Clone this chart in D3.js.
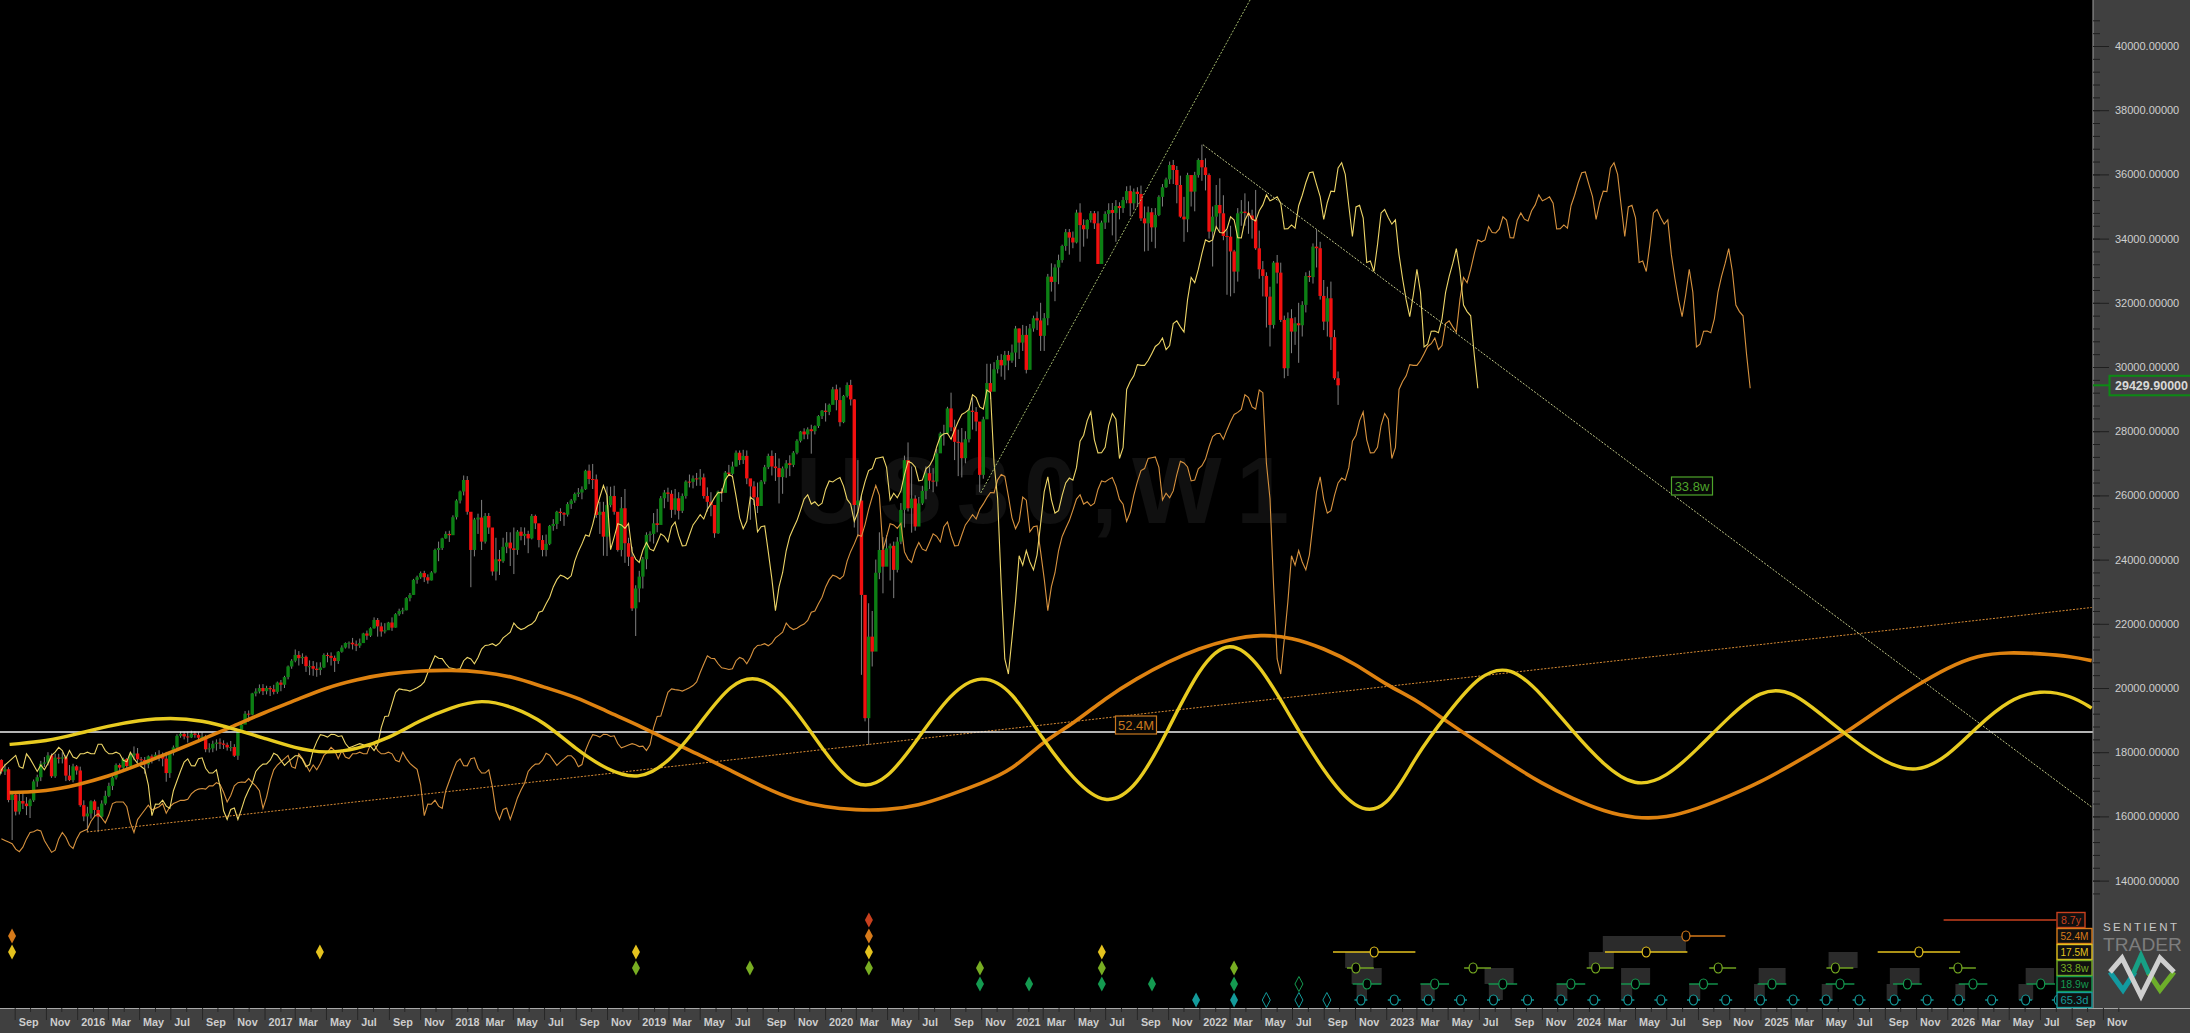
<!DOCTYPE html>
<html>
<head>
<meta charset="utf-8">
<title>US30,W1</title>
<script src="https://cdnjs.cloudflare.com/ajax/libs/d3/7.8.5/d3.min.js"></script>
<style>
html, body { margin: 0; padding: 0; background: #000; overflow: hidden; }
text { font-family: "Liberation Sans", Arial, sans-serif; }
</style>
</head>
<body>
<svg id="chart"></svg>
<script>
// weekly candles, first bar is the week of 3 Aug 2015
const firstOpen = 17760;
const closes = [
  17400,17470,16510,16680,16150,16480,16400,16320,16500,17090,
  17220,17640,17680,17900,17250,17830,17800,17840,17270,17130,
  17560,17430,16350,16000,16090,16470,16200,15990,16400,16640,
  16950,17210,17600,17520,17790,17570,17900,17960,17780,17760,
  17620,17870,17810,17920,17860,17800,17350,17980,18150,18510,
  18570,18490,18460,18580,18540,18450,18490,18090,18120,18260,
  18300,18270,18230,18150,18160,17890,18660,18860,19200,19170,
  19830,19890,20000,19900,20000,19960,19880,20170,20100,20340,
  20670,20850,21030,20930,20970,20680,20680,20600,20560,20640,
  21030,21000,20940,20840,21130,21260,21400,21410,21360,21320,
  21400,21700,21630,21860,22120,21920,21760,21800,22040,21880,
  22300,22400,22420,22800,22900,23370,23450,23580,23450,23350,
  23600,24300,24360,24660,24800,24760,25320,25840,26120,26480,
  25490,24300,25250,25310,24560,25360,25000,23630,24010,23950,
  24400,24530,24350,24300,24870,24740,24800,24660,25360,25130,
  24610,24300,24490,25050,25110,25490,25450,25400,25730,25840,
  26045,26090,26190,26770,26510,26500,25390,25490,24715,25700,
  25980,25490,24300,25600,24510,24090,22480,23100,23470,24010,
  24770,24800,25130,25080,25910,26090,26050,25550,25910,25520,
  25980,26430,26420,26530,26500,26560,25980,25800,25700,24820,
  26120,26080,26710,26670,26900,27330,27100,27230,26530,26280,
  25940,25670,26430,26880,27230,26900,26850,26570,26840,27000,
  26950,27330,27700,27990,27900,28060,28000,28160,28470,28640,
  28600,28820,29305,28970,28280,29100,29440,28990,25700,25840,
  22900,19060,21600,21135,23590,24300,23780,24350,24430,23680,
  24560,25550,27100,25600,25900,25030,25750,26140,26690,26460,
  26430,27310,27930,27930,28710,28120,27670,27650,27160,27750,
  28640,28600,28300,26640,28370,29500,29230,29930,30220,30050,
  30376,30200,30450,31200,30760,31000,29910,31200,31520,31450,
  30970,31520,32815,32650,33100,33330,33770,34200,34030,33880,
  34810,34420,34290,34580,34790,34475,33210,34500,34770,34890,
  34800,35016,34950,35200,35480,35100,35460,35390,34630,34475,
  34820,34350,34735,35300,35600,35845,36293,36137,35670,34684,
  34600,35980,35463,35980,36449,36220,35980,34217,34684,35047,
  34788,34082,34061,33600,32972,34788,34840,34800,34720,34600,
  33698,33044,32837,32193,31311,33252,32940,31466,29961,31518,
  31103,31362,31300,31934,32837,32800,33750,33700,32214,31414,
  32141,30927,29650,29429.9
];
const highs = [
  17780,17640,17530,16780,16740,16700,16780,16600,16550,17150,
  17300,17730,17850,18000,17960,17950,17950,18000,17900,17600,
  17640,17600,17550,16500,16300,16500,16520,16300,16500,16800,
  17050,17250,17650,17650,17830,17820,18000,18180,18130,17850,
  17850,17900,17930,18000,18060,17990,18010,18030,18210,18560,
  18640,18640,18640,18670,18650,18620,18620,18540,18280,18360,
  18400,18430,18370,18300,18350,18250,18700,18930,19280,19300,
  19850,19990,20110,20120,20070,20060,20100,20200,20250,20380,
  20700,20900,21200,21150,21080,21010,20860,20840,20800,20800,
  21080,21100,21110,21010,21150,21330,21420,21450,21560,21480,
  21540,21720,21790,21890,22200,22180,22040,22020,22060,22200,
  22330,22470,22500,22830,22960,23400,23500,23630,23650,23540,
  23640,24340,24560,24680,24880,24900,25380,25880,26150,26620,
  26600,25480,25300,25430,25860,25450,25450,24980,24680,24300,
  24680,24860,24850,25000,24920,25010,25000,24900,25420,25400,
  25110,24760,24780,25080,25260,25520,25600,25480,25790,25890,
  26090,26230,26280,26800,26960,26980,26650,25800,25800,26280,
  26270,26300,25480,25950,26200,24680,24400,23200,23650,24080,
  24850,24880,25450,25580,25980,26170,26240,26160,26200,26100,
  26060,26470,26650,26620,26700,26820,26680,26250,26100,25700,
  26150,26220,26760,26950,27050,27400,27400,27420,27400,26480,
  26440,26400,26480,26950,27300,27400,27320,27150,26900,27100,
  27250,27380,27750,28010,28090,28120,28200,28180,28500,28660,
  28870,28860,29380,29450,29360,29130,29520,29600,29000,27100,
  26000,22850,22640,22400,24000,24850,24700,24760,24500,24560,
  24700,25760,27240,27650,26900,26000,25950,26300,26900,26880,
  26850,27450,27980,28200,28760,29200,28360,28050,28100,28000,
  28720,29050,28750,28200,28450,30100,30100,30150,30350,30400,
  30500,30500,30700,31280,31200,31310,31280,31340,31600,31725,
  32000,31680,32900,33230,33200,33500,33810,34300,34300,34220,
  34900,35100,34600,34600,34860,34860,34850,34560,34850,35100,
  35110,35200,35130,35300,35630,35650,35560,35600,35650,35000,
  35000,34950,34950,35350,35700,35900,36400,36450,36260,35960,
  35300,36050,35960,36080,36500,36925,36500,36030,35000,35670,
  35878,35350,34260,34400,33650,34950,35200,35410,35160,34900,
  35515,34250,33300,32950,32500,33300,33490,33250,31600,31700,
  31800,31550,32000,32050,32950,33000,33850,34270,33900,32710,
  32500,32660,31155,29860
];
const lows = [
  17330,17290,16440,15265,16030,16060,16230,16040,15950,16450,
  16920,17100,17540,17590,17200,17200,17650,17650,17100,17100,
  17060,17300,16300,15850,15510,15930,16000,15510,15950,16350,
  16600,16820,17150,17420,17430,17450,17500,17750,17680,17640,
  17330,17500,17650,17780,17720,17560,17080,17200,17900,18100,
  18450,18400,18300,18440,18450,18360,18400,18000,17990,18000,
  18050,18100,18100,18050,18030,17850,17760,18600,18950,18950,
  19150,19740,19830,19780,19800,19750,19800,19820,19900,20000,
  20270,20600,20800,20700,20750,20500,20400,20380,20350,20400,
  20620,20800,20700,20500,20750,21100,21230,21230,21200,21150,
  21250,21400,21500,21590,21850,21600,21600,21700,21820,21780,
  21880,22250,22300,22420,22700,22900,23250,23400,23300,23250,
  23350,23570,23950,24300,24650,24550,24800,25250,25750,26000,
  25400,23140,24100,24800,24300,24500,24800,23500,23350,23520,
  23900,24200,23800,23550,24150,24600,24450,24200,24630,24950,
  24380,24100,24100,24450,24900,24950,25200,25050,25340,25580,
  25770,25950,25880,26170,26350,26200,25300,24800,24120,24110,
  25630,25400,24250,24100,23900,23800,22400,21620,22670,23100,
  23700,24560,24500,24850,25100,25600,25800,25300,25400,25250,
  25450,25900,26250,26220,26300,26300,25900,25500,25350,24680,
  24800,25800,26100,26600,26620,26900,26950,26980,26350,25240,
  25700,25450,25800,26350,26820,26620,26450,25750,26050,26550,
  26600,26880,27280,27650,27750,27750,27300,27900,28100,28380,
  28300,28500,28900,28650,28150,28250,29050,28800,25000,24700,
  20410,18960,18230,20670,21400,23390,22950,23800,23350,22800,
  23600,24480,25000,25500,24840,24900,25100,25700,25880,26200,
  26100,26280,27400,27550,27900,28000,27100,26600,26560,27000,
  27650,28050,28000,26100,26520,28500,29000,29300,29800,29700,
  29600,29900,30130,30000,30250,30500,29800,30000,31100,31150,
  30500,30500,31300,32350,32050,32580,33250,33620,33500,33700,
  33850,33280,33750,34000,34500,34300,33210,33480,34300,34500,
  34100,33900,34600,34800,35100,34700,34900,35000,34550,33600,
  33620,33900,33700,34700,35000,35580,35700,35700,35100,34650,
  33900,34200,35000,34850,35900,35800,35500,34000,33130,34300,
  34200,33950,32250,32200,32300,32660,34400,34400,34150,34000,
  33650,32750,32200,31230,30640,31200,32600,31400,29650,29720,
  30430,30690,30130,30950,31700,32650,32600,33100,32100,31150,
  30950,30530,29600,28820
];
// midpoint price before the first candle
const earlierMedian = [
  15300,15250,15200,15150,14980,14900,15040,15300,15500,15520,15580,
  15550,15250,15060,14880,14950,15300,15500,15350,15100,
  15000,15300,15500,15550,15600,15850,16000,16080,15950,15800,16050,16400,16450,
  16450,16450,16300,15800,15500,15900,16050,16200,16350,16200,16250,16300,16400,
  16100,16300,16400,16450,16500,16500,16530,16700,16800,16850,16870,16850,16950,
  16950,17050,17000,16750,16450,16650,16950,17050,17070,17060,17180,17050,16950,
  16800,16250,16600,17100,17450,17600,17700,17800,17900,17550,17500,17950,17800,
  17600,17400,17600,17450,17650,17900,18000,18150,18050,17800,18050,17850,17800,
  17950,17950,18000,17950,17950,18250,18250,18050,17950,17950,18000,17950,17750,
  17700,18000,17800,17650
];
const shift33w = 39;
const shift52M = 115;

// composite cycle curves, one reading per two months plus both ends
const cycleStart = '2015-08-22';
const cycleEnd = '2026-10-10';
const cycle17M = [18243,
  18256,18339,18567,18816,18993,19080,18993,18733,18432,18131,17960,18090,18432,19003,19398,19660,19419,18951,18090,17446,17120,17653,
  18868,20200,20430,19419,17965,16800,17100,18432,19834,20470,19938,18380,17134,16300,16875,18692,20665,21580,20717,19003,17394,16180,
  16140,17938,19200,20420,20720,19809,18634,17590,16900,17200,18112,19112,19950,19950,19156,18373,17677,17340,17851,18808,19635,19950,19760,
  19373];
const cycle52M = [16740,
  16750,16781,16978,17238,17612,17986,18401,18806,19242,19606,20011,20270,20457,20540,20561,20509,20353,20021,19730,19263,18848,18360,
  17913,17425,16926,16502,16284,16197,16197,16327,16667,17030,17445,18328,18900,19678,20301,20820,21236,21516,21672,21578,21236,20769,20094,
  19635,18938,18285,17633,17024,16546,16154,15936,15950,16241,16632,17068,17590,18155,18764,19461,20070,20635,21027,21114,21070,20980,
  20853];

const yTicks = [14000,16000,18000,20000,22000,24000,26000,28000,30000,32000,34000,36000,38000,40000];
const xLabels = ['Sep','Nov',
  '2016','Mar','May','Jul','Sep','Nov','2017','Mar','May','Jul','Sep','Nov',
  '2018','Mar','May','Jul','Sep','Nov','2019','Mar','May','Jul','Sep','Nov',
  '2020','Mar','May','Jul','Sep','Nov','2021','Mar','May','Jul','Sep','Nov',
  '2022','Mar','May','Jul','Sep','Nov','2023','Mar','May','Jul','Sep','Nov',
  '2024','Mar','May','Jul','Sep','Nov','2025','Mar','May','Jul','Sep','Nov',
  '2026','Mar','May','Jul','Sep','Nov'];

const whiteLevel = 18630;
// [date, value, date, value]
const trendLower = ['2016-01-20', 15514, '2026-10-10', 22508];
const trendUp = ['2020-10-31', 26075, '2022-04-10', 41433];
const trendDown = ['2022-01-08', 36925, '2026-10-10', 16293];

const cycleNames = ['8.7y','52.4M','17.5M','33.8w','18.9w','65.3d'];
const cycleColors = ['#c8401e','#d67a1a','#e4c21e','#78ad22','#149a50','#149a9a'];

// the marker rows below count in weeks from 10 Aug 2015
const diamonds = [
  [2.4,1],[2.4,2],[88.3,2],[176.5,2],[176.5,3],[208.3,3],
  [241.5,0],[241.5,1],[241.5,2],[241.5,3],[272.5,3],[272.5,4],[286.2,4],
  [306.5,2],[306.5,3],[306.5,4],[320.5,4],[332.8,5],[343.4,3],[343.4,4],[343.4,5]
];
const hollowDiamonds = [[352.4,5],[361.5,4],[361.5,5],[369.3,5]];
const troughs52M = [469.5];
const troughs17M = [382.5,458.4,534.5];
const troughs33w = [377.4,410.1,444.3,478.5,511.2,545.4];
const troughs18w = [380.5,399.4,418.4,437.4,455.4,474.4,493.5,512.5,531.3,549.6,568.5];
const troughs65d = [378.8,388.1,397.6,406.6,415.8,425.3,434.6,443.8,453.3,462.5,471.6,480.6,490.3,499.4,508.6,517.8,527.6,536.8,545.6,554.8,564.3,573.4];
const line8y = [541.4, 572.9];
// [top row, from week, to week]
const shadeBoxes = [
  [2,374.4,382.3],[3,376.2,384.6],[4,377.6,380.5],[4,395.5,399.4],[3,413.3,421.4],[4,414.5,418.4],
  [4,433.4,436.4],[2,442.4,449.4],[1,446.3,469.5],[3,451.4,459.5],[4,451.4,454.5],[4,470.4,473.5],
  [3,489.8,497.3],[4,488.5,491.5],[4,507.4,510.4],[2,509.3,517.4],[3,526.4,534.7],[4,525.5,528.5],
  [4,544.7,547.4],[3,564.3,572.2],[4,562.3,566.4]
];

const W = 2190, H = 1033;
const plotRight = 2093, plotBottom = 1008;
const svg = d3.select('#chart').attr('width', W).attr('height', H);
svg.append('rect').attr('width', W).attr('height', H).attr('fill', '#000');
svg.append('defs').append('clipPath').attr('id', 'plot')
  .append('rect').attr('width', plotRight).attr('height', plotBottom);

const day = 864e5;
const parse = d3.utcParse('%Y-%m-%d');
const x = d3.scaleUtc()
  .domain([parse('2015-09-01'), parse('2026-09-01')])
  .range([14.7, 2071.7]);
const y = d3.scaleLinear().domain([30000, 40000]).range([367, 46]);
const rowY = d3.scalePoint().domain(d3.range(cycleNames.length)).range([920, 1000]);

const firstBar = parse('2015-08-06');
const barDate = i => new Date(+firstBar + i * 7 * day);
const weekStart = parse('2015-08-10');
const wx = w => x(new Date(+weekStart + w * 7 * day));

const bars = closes.map((c, i) => ({
  i, close: c, high: highs[i], low: lows[i],
  open: i ? closes[i - 1] : firstOpen
}));

const plot = svg.append('g').attr('clip-path', 'url(#plot)');

plot.append('text')
  .attr('x', 796).attr('y', 523)
  .attr('textLength', 493).attr('lengthAdjust', 'spacing')
  .attr('font-size', 95).attr('font-weight', 'bold')
  .attr('fill', '#101010')
  .text('US30,W1');

plot.selectAll('.wick').data(bars).enter().append('line')
  .attr('class', 'wick')
  .attr('x1', d => x(barDate(d.i))).attr('x2', d => x(barDate(d.i)))
  .attr('y1', d => y(d.high)).attr('y2', d => y(d.low))
  .attr('stroke', '#808080').attr('stroke-width', 1);

plot.selectAll('.body').data(bars).enter().append('rect')
  .attr('class', 'body')
  .attr('x', d => x(barDate(d.i)) - 1.7)
  .attr('width', 3.4)
  .attr('y', d => y(Math.max(d.open, d.close)))
  .attr('height', d => Math.max(1, Math.abs(y(d.open) - y(d.close))))
  .attr('fill', d => d.close >= d.open ? '#0c7f14' : '#f2100f');

// displaced midpoint lines
const medians = earlierMedian.concat(bars.map(d => (d.high + d.low) / 2));
const firstIndex = -earlierMedian.length;
const fld = shift => d3.line()
  .x((d, k) => x(barDate(firstIndex + k + shift)))
  .y(d => y(d));

plot.append('path').datum(medians)
  .attr('d', fld(shift52M))
  .attr('fill', 'none').attr('stroke', '#d8933f').attr('stroke-width', 1.1);
plot.append('path').datum(medians)
  .attr('d', fld(shift33w))
  .attr('fill', 'none').attr('stroke', '#eed668').attr('stroke-width', 1.1);

const trend = (t, color) => plot.append('line')
  .attr('x1', x(parse(t[0]))).attr('y1', y(t[1]))
  .attr('x2', x(parse(t[2]))).attr('y2', y(t[3]))
  .attr('stroke', color).attr('stroke-width', 1).attr('stroke-dasharray', '2 1.5');
trend(trendLower, '#d98c34');
trend(trendUp, '#a3b96e');
trend(trendDown, '#c3c98a');

plot.append('line')
  .attr('x1', 0).attr('x2', plotRight)
  .attr('y1', y(whiteLevel)).attr('y2', y(whiteLevel))
  .attr('stroke', '#f0f0f0').attr('stroke-width', 1.5);

const monthTicks = xLabels.map((d, i) => d3.utcMonth.offset(parse('2015-09-01'), i * 2));
const cycleDates = [parse(cycleStart)].concat(monthTicks.slice(0, 67), [parse(cycleEnd)]);
const cycleLine = d3.line()
  .x((d, k) => x(cycleDates[k]))
  .y(d => y(d))
  .curve(d3.curveBasis);

plot.append('path').datum(cycle52M).attr('d', cycleLine)
  .attr('fill', 'none').attr('stroke', '#de8210').attr('stroke-width', 3.6);
plot.append('path').datum(cycle17M).attr('d', cycleLine)
  .attr('fill', 'none').attr('stroke', '#e8cb20').attr('stroke-width', 3.4);

const tagBox = (cx, cy, label, color) => {
  const g = svg.append('g');
  g.append('rect').attr('x', cx - 20.5).attr('y', cy - 9).attr('width', 41).attr('height', 18)
    .attr('fill', '#060606').attr('stroke', color).attr('stroke-width', 1.2);
  g.append('text').attr('x', cx).attr('y', cy + 4.5).attr('text-anchor', 'middle')
    .attr('font-size', 13).attr('fill', color).text(label);
};
tagBox(1136, 725, '52.4M', '#c9781e');
tagBox(1692, 486, '33.8w', '#4ea52a');

// cycle rows along the bottom
const rows = svg.append('g');
rows.selectAll('.shade').data(shadeBoxes).enter().append('rect')
  .attr('x', d => wx(d[1])).attr('width', d => wx(d[2]) - wx(d[1]))
  .attr('y', d => rowY(d[0])).attr('height', 16)
  .attr('fill', '#2b2b2b');

const diamondPath = 'M0,-7.5 L4,0 L0,7.5 L-4,0 Z';
rows.selectAll('.diamond').data(diamonds).enter().append('path')
  .attr('d', diamondPath)
  .attr('transform', d => `translate(${wx(d[0])},${rowY(d[1])})`)
  .attr('fill', d => cycleColors[d[1]]);
rows.selectAll('.hollow').data(hollowDiamonds).enter().append('path')
  .attr('d', diamondPath)
  .attr('transform', d => `translate(${wx(d[0])},${rowY(d[1])})`)
  .attr('fill', '#000').attr('stroke', d => cycleColors[d[1]]);

rows.append('line')
  .attr('x1', wx(line8y[0])).attr('x2', wx(line8y[1]))
  .attr('y1', rowY(0)).attr('y2', rowY(0))
  .attr('stroke', cycleColors[0]).attr('stroke-width', 1.4);

const troughRow = (weeks, row, before, after) => {
  rows.selectAll('.t' + row).data(weeks).enter().append('line')
    .attr('x1', d => wx(d - before)).attr('x2', d => wx(d + after))
    .attr('y1', rowY(row)).attr('y2', rowY(row))
    .attr('stroke', cycleColors[row]).attr('stroke-width', 1.4);
  rows.selectAll('.c' + row).data(weeks).enter().append('ellipse')
    .attr('cx', d => wx(d)).attr('cy', rowY(row))
    .attr('rx', 4).attr('ry', 5)
    .attr('fill', '#000').attr('stroke', cycleColors[row]).attr('stroke-width', 1.2);
};
troughRow(troughs52M, 1, 0, 11);
troughRow(troughs17M, 2, 11.5, 11.5);
troughRow(troughs33w, 3, 2.5, 5);
troughRow(troughs18w, 4, 4, 4);
troughRow(troughs65d, 5, 1.8, 1.8);

// right panel
svg.append('rect').attr('x', plotRight).attr('y', 0)
  .attr('width', W - plotRight).attr('height', H).attr('fill', '#404040');
const minorY = svg.append('g').attr('transform', `translate(${plotRight},0)`)
  .call(d3.axisRight(y).tickValues(d3.range(13600, 41200, 400)).tickSize(7).tickSizeOuter(0).tickFormat(''));
const majorY = svg.append('g').attr('transform', `translate(${plotRight},0)`)
  .call(d3.axisRight(y).tickValues(yTicks).tickSize(16).tickSizeOuter(0).tickPadding(6).tickFormat(d3.format('.5f')));
minorY.selectAll('.tick line').attr('stroke', '#1e1e1e');
majorY.selectAll('.tick line').attr('stroke', '#1e1e1e');
minorY.select('.domain').attr('d', `M0,0V${plotBottom}`).attr('stroke', '#a0a0a0');
majorY.select('.domain').remove();
majorY.selectAll('text').attr('fill', '#cfcfcf').attr('font-size', 11).attr('font-family', '"Liberation Sans", Arial, sans-serif');

const lastClose = closes[closes.length - 1];
svg.append('line').attr('x1', plotRight).attr('x2', 2110)
  .attr('y1', y(lastClose)).attr('y2', y(lastClose))
  .attr('stroke', '#0c8a14').attr('stroke-width', 2);
svg.append('rect').attr('x', 2109.5).attr('y', y(lastClose) - 9.5).attr('width', 90).attr('height', 19.5)
  .attr('fill', '#404040').attr('stroke', '#0c8a14').attr('stroke-width', 2);
svg.append('text').attr('x', 2115).attr('y', y(lastClose) + 4.6)
  .attr('font-size', 12.5).attr('font-weight', 'bold').attr('fill', '#d8d8d8')
  .text(d3.format('.5f')(lastClose));

// bottom panel
svg.append('rect').attr('x', 0).attr('y', plotBottom)
  .attr('width', W).attr('height', H - plotBottom).attr('fill', '#404040');
svg.append('rect').attr('x', 0).attr('y', plotBottom)
  .attr('width', W).attr('height', 1).attr('fill', '#a8a8a8');
const minorX = svg.append('g').attr('transform', `translate(0,${plotBottom})`)
  .call(d3.axisBottom(x).tickValues(monthTicks.map(d => d3.utcMonth.offset(d, 1))).tickSize(4).tickSizeOuter(0).tickFormat(''));
const majorX = svg.append('g').attr('transform', `translate(0,${plotBottom})`)
  .call(d3.axisBottom(x).tickValues(monthTicks).tickSize(12).tickSizeOuter(0).tickFormat((d, i) => xLabels[i]));
minorX.select('.domain').remove();
majorX.select('.domain').remove();
minorX.selectAll('.tick line').attr('stroke', '#262626');
majorX.selectAll('.tick line').attr('stroke', '#262626');
majorX.selectAll('text')
  .attr('x', 3.5).attr('y', 18).attr('dy', 0)
  .attr('text-anchor', 'start')
  .attr('fill', '#cdcdcd').attr('font-size', 10.8).attr('font-weight', 'bold')
  .attr('font-family', '"Liberation Sans", Arial, sans-serif');

// period boxes
const legend = svg.append('g').selectAll('g').data(cycleNames).enter().append('g')
  .attr('transform', (d, i) => `translate(2057,${rowY(i) - 7.5})`);
legend.append('rect')
  .attr('width', (d, i) => i === 0 ? 28 : 35).attr('height', 15)
  .attr('fill', '#101010')
  .attr('stroke', (d, i) => cycleColors[i]).attr('stroke-width', 1.4);
legend.append('text')
  .attr('x', (d, i) => i === 0 ? 14 : 17.5).attr('y', 11.5)
  .attr('text-anchor', 'middle').attr('font-size', 11)
  .attr('textLength', (d, i) => i === 0 ? 20 : 28).attr('lengthAdjust', 'spacingAndGlyphs')
  .attr('fill', (d, i) => cycleColors[i])
  .text(d => d);

// logo
svg.append('text').attr('x', 2103).attr('y', 931)
  .attr('font-size', 11.5).attr('textLength', 74).attr('fill', '#c8c8c8').text('SENTIENT');
svg.append('text').attr('x', 2103).attr('y', 951)
  .attr('font-size', 19).attr('textLength', 79).attr('lengthAdjust', 'spacingAndGlyphs').attr('fill', '#7d7d7d').text('TRADER');
const logo = [
  ['M2110,972 L2123,990 L2135,972', '#129aa0'],
  ['M2148,972 L2160,990 L2174,972', '#6dae2a'],
  ['M2133,974 L2141,956 L2149,974', '#17a085'],
  ['M2110,972 L2122,958 L2141,996 L2160,958 L2174,972', '#cfcfcf']
];
svg.append('g').selectAll('path').data(logo).enter().append('path')
  .attr('d', d => d[0]).attr('fill', 'none').attr('stroke', d => d[1]).attr('stroke-width', 5);
</script>
</body>
</html>
